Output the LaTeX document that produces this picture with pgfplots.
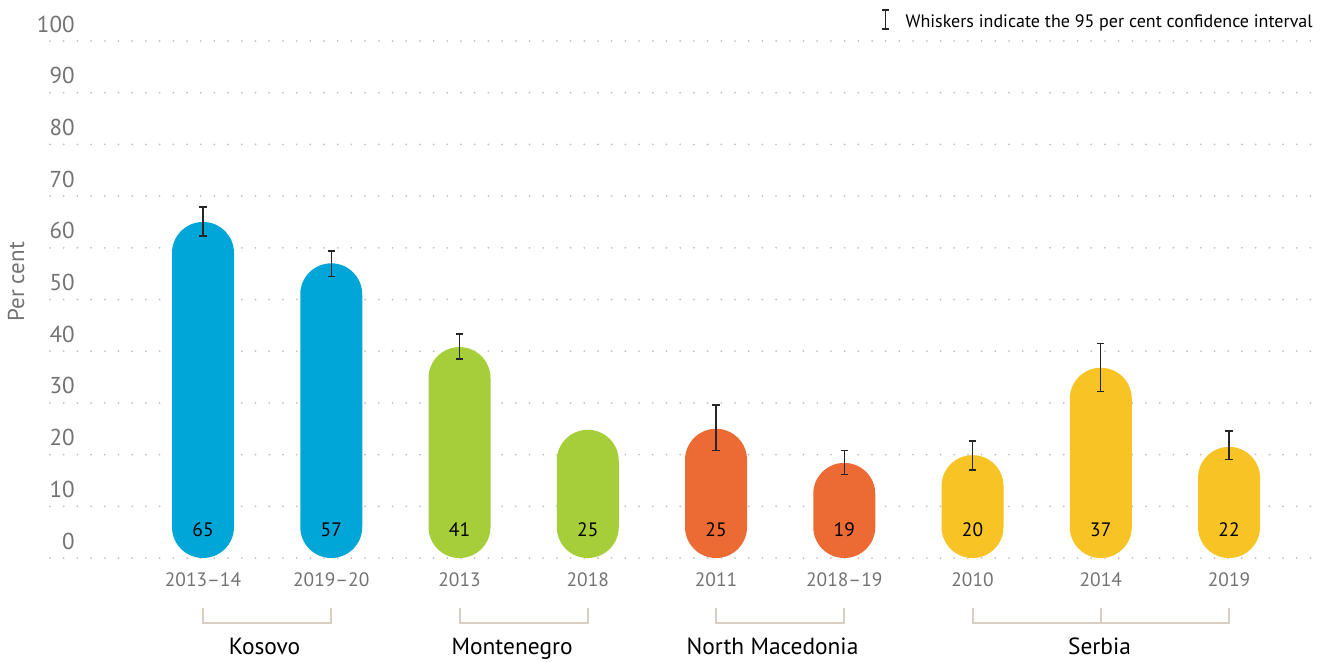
\documentclass[border=0pt]{standalone}
\usepackage{fontspec}
\setmainfont{PT Sans}
\usepackage{pgfplots}
\pgfplotsset{compat=1.18}
\definecolor{kblue}{RGB}{0,166,216}
\definecolor{mgreen}{RGB}{166,206,57}
\definecolor{norange}{RGB}{236,106,52}
\definecolor{syellow}{RGB}{248,195,36}
\definecolor{gridc}{RGB}{200,190,182}
\definecolor{brk}{RGB}{216,206,196}
\definecolor{lab}{RGB}{115,115,115}
\pgfplotsset{
  pill/.style={ybar, bar width=31pt, draw=none, rounded corners=15.5pt},
  whisk/.style={error bars/.cd, y dir=both, y explicit,
    error bar style={draw=black!85, line width=0.7pt},
    error mark options={draw=black!85, line width=0.7pt, mark size=1.8pt, rotate=90}},
}
\begin{document}
\begin{tikzpicture}
\begin{axis}[
  at={(0,0)}, anchor=south west,
  scale only axis, width=631pt, height=258.5pt,
  xmin=-1.193, xmax=8.647, ymin=0, ymax=100,
  clip=false,
  axis line style={draw=none},
  tick style={draw=none},
  major tick length=0pt,
  ytick={0,10,...,100},
  xtick={0,...,8},
  xticklabels={2013--14,2019--20,2013,2018,2011,2018--19,2010,2014,2019},
  ymajorgrids,
  grid style={gridc, line width=1pt, line cap=round, dash pattern=on 0pt off 6.85pt},
  /pgf/number format/assume math mode=true,
  yticklabel style={font=\fontsize{11.5}{12}\selectfont, text=lab, anchor=base east, inner sep=0pt, xshift=12.5pt, yshift=4.5pt},
  xticklabel style={font=\fontsize{9.7}{10}\selectfont, text=lab, anchor=base, inner sep=0pt, yshift=-14pt},
  ylabel={Per cent},
  ylabel style={at={([xshift=-17pt]axis description cs:0,0.534)}, anchor=center, font=\fontsize{11.5}{12}\selectfont, text=lab},
]
% Kosovo
\addplot[pill, fill=kblue, whisk] coordinates {
  (0,65) += (0,2.9) -= (0,2.7)
  (1,57) += (0,2.4) -= (0,2.5)
};
% Montenegro
\addplot[pill, fill=mgreen, whisk] coordinates {
  (2,40.8) += (0,2.5) -= (0,2.3)
};
\addplot[pill, fill=mgreen] coordinates {(3,24.8)};
% North Macedonia
\addplot[pill, fill=norange, whisk] coordinates {
  (4,25) += (0,4.6) -= (0,4.2)
  (5,18.4) += (0,2.4) -= (0,2.2)
};
% Serbia
\addplot[pill, fill=syellow, whisk] coordinates {
  (6,19.9) += (0,2.7) -= (0,2.9)
  (7,36.8) += (0,4.7) -= (0,4.6)
  (8,21.5) += (0,3.1) -= (0,2.4)
};
% value labels
\addplot[draw=none, mark=none, nodes near coords, point meta=explicit symbolic,
  every node near coord/.append style={anchor=center, inner sep=0pt, text=black, font=\fontsize{9.7}{10}\selectfont}]
  coordinates {(0,5.5)[65] (1,5.5)[57] (2,5.5)[41] (3,5.5)[25] (4,5.5)[25] (5,5.5)[19] (6,5.5)[20] (7,5.5)[37] (8,5.5)[22]};
% group brackets
\draw[brk, line width=1pt] (axis cs:0,-9.67) -- (axis cs:0,-12.57) -- (axis cs:1,-12.57) -- (axis cs:1,-9.67);
\draw[brk, line width=1pt] (axis cs:2,-9.67) -- (axis cs:2,-12.57) -- (axis cs:3,-12.57) -- (axis cs:3,-9.67);
\draw[brk, line width=1pt] (axis cs:4,-9.67) -- (axis cs:4,-12.57) -- (axis cs:5,-12.57) -- (axis cs:5,-9.67);
\draw[brk, line width=1pt] (axis cs:6,-9.67) -- (axis cs:6,-12.57) -- (axis cs:8,-12.57) -- (axis cs:8,-9.67);
\draw[brk, line width=1pt] (axis cs:7,-9.67) -- (axis cs:7,-12.57);
\node[anchor=base, font=\fontsize{11.7}{13}\selectfont] at (axis cs:0.48,-18.6) {Kosovo};
\node[anchor=base, font=\fontsize{11.7}{13}\selectfont] at (axis cs:2.41,-18.6) {Montenegro};
\node[anchor=base, font=\fontsize{11.7}{13}\selectfont] at (axis cs:4.44,-18.6) {North Macedonia};
\node[anchor=base, font=\fontsize{11.7}{13}\selectfont] at (axis cs:6.99,-18.6) {Serbia};
\end{axis}
% legend
\node[anchor=base east, inner sep=0pt, font=\fontsize{9}{11}\selectfont] (leg) at (631.5pt,265.5pt) {Whiskers indicate the 95 per cent confidence interval};
\draw[black!85, line width=0.6pt] ([xshift=-10pt,yshift=-1pt]leg.base west) -- ++(0,9.5pt);
\draw[black!85, line width=0.6pt] ([xshift=-11.75pt,yshift=-1pt]leg.base west) -- ++(3.5pt,0) ++(-3.5pt,9.5pt) -- ++(3.5pt,0);
\pgfresetboundingbox
\path (-25pt,-51.5pt) rectangle (639pt,279pt);
\end{tikzpicture}
\end{document}
